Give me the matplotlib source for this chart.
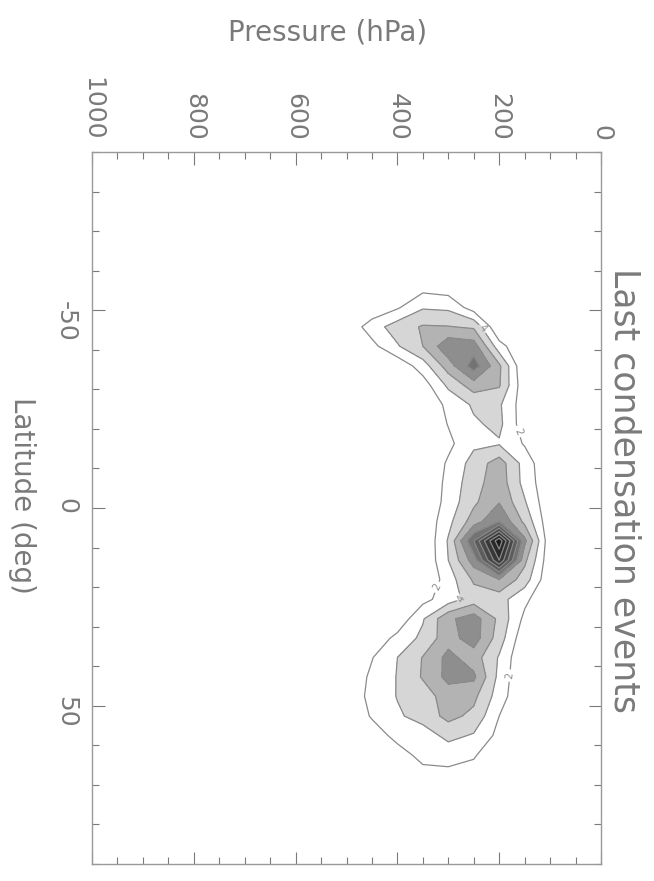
import matplotlib
matplotlib.use('Agg')
import matplotlib.pyplot as plt
from matplotlib.ticker import MultipleLocator

# grid of the counts: latitude rows (deg) x pressure columns (hPa)
lats = [-65.4, -60.5, -55.6, -50.7, -45.8, -40.9, -35.9, -31.0, -26.1, -21.2,
        -16.3, -11.3, -6.4, -1.5, 3.4, 8.3, 13.2, 18.1, 23.1, 28.0,
        32.9, 37.8, 42.7, 47.6, 52.6, 57.5, 62.4, 67.3, 72.2]
pressures = list(range(0, 600, 50))

counts = [
    [0, 0, 0, 0, 0, 0, 0, 0, 0, 0, 0, 0],
    [0, 0, 0, 0, 0, 0, 0, 0, 0, 0, 0, 0],
    [0, 0, 0, 0, 0, 0, 1.0, 1.4, 0.5, 0, 0, 0],
    [0, 0, 0, 0, 0, 1.0, 3.6, 3.8, 1.75, 0.5, 0, 0],
    [0, 0, 0, 0, 0, 5.7, 6.1, 6.2, 5.0, 3.0, 0.5, 0],
    [0, 0, 0, 0, 2.8, 9.0, 9.5, 6.0, 3.8, 1.4, 0, 0],
    [0, 0, 0, 0, 6.4, 11.0, 7.0, 3.0, 0.5, 0, 0, 0],
    [0, 0, 0, 0.5, 6.2, 7.0, 4.4, 1.0, 0, 0, 0, 0],
    [0, 0, 0, 0.8, 4.3, 4.3, 2.5, 0.3, 0, 0, 0, 0],
    [0, 0, 0, 0.8, 4.5, 3.7, 2.1, 0, 0, 0, 0, 0],
    [0, 0, 0, 1.8, 3.8, 3.6, 1.5, 0, 0, 0, 0, 0],
    [0, 0, 0, 3.2, 7.0, 4.8, 2.3, 0, 0, 0, 0, 0],
    [0, 0, 0.3, 3.3, 7.2, 5.2, 2.6, 0, 0, 0, 0, 0],
    [0, 0, 0.3, 4.2, 7.9, 5.6, 2.8, 0, 0, 0, 0, 0],
    [0, 0, 0.5, 5.5, 10.0, 7.0, 3.4, 0.3, 0, 0, 0, 0],
    [0, 0, 0.5, 8.5, 21.5, 12.0, 4.2, 0, 0, 0, 0, 0],
    [0, 0, 0.5, 6.5, 18.0, 9.0, 4.0, 0, 0, 0, 0, 0],
    [0, 0, 0.3, 5.0, 8.0, 6.3, 3.0, 0, 0, 0, 0, 0],
    [0, 0, 0, 2.5, 4.8, 5.0, 3.0, 1.4, 0, 0, 0, 0],
    [0, 0, 0, 1.5, 5.5, 9.0, 7.6, 3.8, 0.5, 0, 0, 0],
    [0, 0, 0, 0.5, 5.0, 9.0, 7.2, 4.5, 2.6, 0.5, 0, 0],
    [0, 0, 0, 0, 3.8, 7.0, 8.6, 6.1, 4.0, 1.9, 0.2, 0],
    [0, 0, 0, 0, 3.4, 8.4, 8.6, 6.2, 4.1, 2.4, 0.4, 0],
    [0, 0, 0, 0, 3.0, 6.5, 7.0, 5.0, 4.1, 2.5, 0.8, 0],
    [0, 0, 0, 0, 2.0, 5.5, 6.6, 4.8, 3.7, 2.2, 0.3, 0],
    [0, 0, 0, 0, 1.4, 3.8, 4.6, 3.0, 2.6, 1.0, 0, 0],
    [0, 0, 0, 0, 0, 2.3, 2.8, 2.6, 1.2, 0, 0, 0],
    [0, 0, 0, 0, 0, 1.0, 1.5, 1.4, 0.5, 0, 0, 0],
    [0, 0, 0, 0, 0, 0, 0, 0, 0, 0, 0, 0],
]

fill_levels = [0, 2, 4, 6, 8, 10, 12, 14, 16, 18, 20, 30]
fill_colors = ['white', 'white', '#d6d6d6', '#b3b3b3', '#8e8e8e', '#737373',
               '#5c5c5c', '#484848', '#383838', '#2a2a2a', '#1c1c1c']
line_levels = [2, 4, 6, 8, 10, 12, 14, 16, 18, 20]
label_spots = [(157, -19.7), (315, 20.7), (163, 42.7), (248, 24.7), (242, -43.8)]

plt.rcParams['axes.unicode_minus'] = False
grey = '#7a7a7a'

fig = plt.figure(figsize=(6.54, 8.81), dpi=100)
ax = fig.add_axes([92 / 654, 17 / 881, 509 / 654, 712 / 881])

ax.contourf(pressures, lats, counts, levels=fill_levels, colors=fill_colors)
cs = ax.contour(pressures, lats, counts, levels=line_levels, colors='#8a8a8a',
                linewidths=0.9)
ax.clabel(cs, levels=[2, 4], fmt='%d', fontsize=7, colors='#8a8a8a',
          inline=True, manual=label_spots)

ax.set_xlim(1000, 0)
ax.set_ylim(90, -90)
ax.set_xticks(range(0, 1001, 200))
ax.xaxis.set_minor_locator(MultipleLocator(50))
ax.set_yticks([-50, 0, 50])
ax.yaxis.set_minor_locator(MultipleLocator(10))

ax.tick_params(axis='x', which='both', top=True, bottom=True, labeltop=True,
               labelbottom=False, direction='in', colors=grey, labelsize=18, pad=8)
ax.tick_params(axis='y', which='both', left=True, right=True, direction='in',
               colors=grey, labelsize=18, pad=10)
ax.tick_params(which='major', length=9, width=0.8)
ax.tick_params(which='minor', length=5, width=0.8)
for lab in ax.get_xticklabels() + ax.get_yticklabels():
    lab.set_rotation(-90)
for sp in ax.spines.values():
    sp.set_color('#999999')
    sp.set_linewidth(1.0)

fig.text(328 / 654, 1 - 33 / 881, 'Pressure (hPa)', ha='center', va='center',
         fontsize=20, color=grey)
fig.text(22 / 654, 1 - 495 / 881, 'Latitude (deg)', ha='center', va='center',
         rotation=-90, fontsize=20, color=grey)
fig.text(625 / 654, 1 - 491 / 881, 'Last condensation events', ha='center',
         va='center', rotation=-90, fontsize=25, color=grey)

fig.savefig('out.png', dpi=100)
